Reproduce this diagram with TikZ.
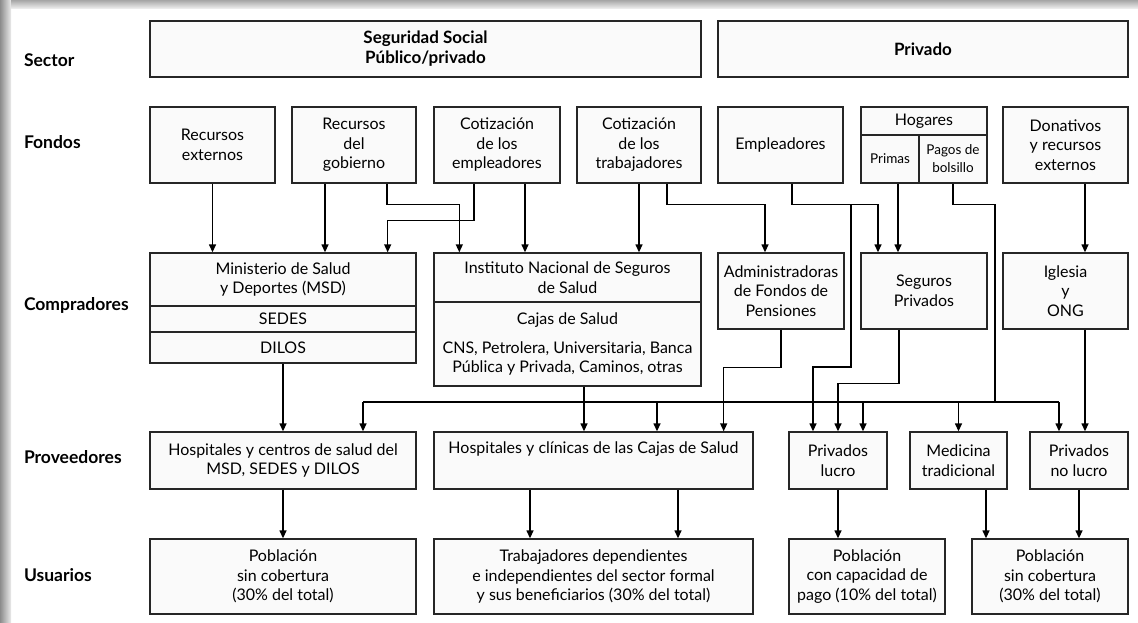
\documentclass[tikz,border=0pt]{standalone}
\usepackage{fontspec}
\setmainfont{Lato}
\usetikzlibrary{arrows.meta}

\begin{document}
\begin{tikzpicture}[x=1pt, y=-1pt,
  box/.style = {rectangle, draw=black!85, fill=black!2, align=center, inner sep=0pt},
  rowlabel/.style = {anchor=west, font=\bfseries\fontsize{17.5}{20}\selectfont},
  small/.style = {font=\fontsize{13.5}{18}\selectfont},
  >={Triangle[length=8pt, width=7pt]},
  line width=1.35pt,
  font=\fontsize{16}{19.5}\selectfont]
  % Page and shadow frame.
  \useasboundingbox (0, 0) rectangle (1138, 622);
  \fill [white] (0, 0) rectangle (1138, 622);
  \shade [left color=black!45, right color=black!8] (0, 0) rectangle (11, 622);
  \shade [top color=black!35, bottom color=black!8] (11, 0) rectangle (1138, 8);

  % Row labels.
  \node at (20, 60) [rowlabel, name=LabSector] {Sector};
  \node at (20, 142) [rowlabel, name=LabFondos] {Fondos};
  \node at (20, 305) [rowlabel, name=LabCompradores] {Compradores};
  \node at (20, 457) [rowlabel, name=LabProveedores] {Proveedores};
  \node at (20, 575) [rowlabel, name=LabUsuarios] {Usuarios};

  % Sector.
  \node at (425.5, 49) [box, minimum width=551, minimum height=56, font=\bfseries\fontsize{17}{20}\selectfont, name=SegSocial] {Seguridad Social\\Público/privado};
  \node at (923, 49) [box, minimum width=410, minimum height=56, font=\bfseries\fontsize{17}{20}\selectfont, name=Privado] {Privado};

  % Fondos.
  \node at (212.5, 145) [box, minimum width=125, minimum height=76, name=RecExt] {Recursos\\externos};
  \node at (354, 145) [box, minimum width=124, minimum height=76, name=RecGob] {Recursos\\del\\gobierno};
  \node at (497, 145) [box, minimum width=126, minimum height=76, name=CotEmp] {Cotización\\de los\\empleadores};
  \node at (639, 145) [box, minimum width=124, minimum height=76, name=CotTrab] {Cotización\\de los\\trabajadores};
  \node at (780.5, 145) [box, minimum width=125, minimum height=76, name=Empleadores] {Empleadores};
  \node at (924, 121) [box, minimum width=126, minimum height=28, name=Hogares] {Hogares};
  \node at (890, 159) [box, small, minimum width=58, minimum height=48, name=Primas] {Primas};
  \node at (953, 159) [box, small, minimum width=68, minimum height=48, name=Pagos] {Pagos de\\bolsillo};
  \node at (1065.5, 145) [box, minimum width=125, minimum height=76, name=Donativos] {Donativos\\y recursos\\externos};

  % Compradores.
  \node at (283, 279.5) [box, minimum width=266, minimum height=53, name=MSD] {Ministerio de Salud\\y Deportes (MSD)};
  \node at (283, 319) [box, minimum width=266, minimum height=26, name=SEDES] {SEDES};
  \node at (283, 347.5) [box, minimum width=266, minimum height=31, name=DILOS] {DILOS};
  \node at (567.5, 277.5) [box, minimum width=267, minimum height=49, name=INSS] {Instituto Nacional de Seguros\\de Salud};
  \node at (567.5, 344) [box, minimum width=267, minimum height=84, name=Cajas] {Cajas de Salud\\[9pt]CNS, Petrolera, Universitaria, Banca\\Pública y Privada, Caminos, otras};
  \node at (781, 291) [box, minimum width=126, minimum height=76, name=AFP] {Administradoras\\de Fondos de\\Pensiones};
  \node at (924, 291) [box, minimum width=126, minimum height=76, name=SegPriv] {Seguros\\Privados};
  \node at (1065.5, 291) [box, minimum width=125, minimum height=76, name=Iglesia] {Iglesia\\y\\ONG};

  % Proveedores.
  \node at (283, 460.5) [box, minimum width=266, minimum height=57, name=HospMSD] {Hospitales y centros de salud del\\MSD, SEDES y DILOS};
  \node at (593.5, 460.5) [box, minimum width=319, minimum height=57, name=HospCajas] {Hospitales y clínicas de las Cajas de Salud\\\strut};
  \node at (838, 460.5) [box, minimum width=98, minimum height=57, name=PrivLucro] {Privados\\lucro};
  \node at (958.5, 460.5) [box, minimum width=97, minimum height=57, name=MedTrad] {Medicina\\tradicional};
  \node at (1079, 460.5) [box, minimum width=98, minimum height=57, name=PrivNoLucro] {Privados\\no lucro};

  % Usuarios.
  \node at (283, 576.5) [box, minimum width=266, minimum height=75, name=PobSinA] {Población\\sin cobertura\\(30\% del total)};
  \node at (593.5, 576.5) [box, minimum width=319, minimum height=75, name=Trab] {Trabajadores dependientes\\e independientes del sector formal\\y sus beneficiarios (30\% del total)};
  \node at (867, 576.5) [box, minimum width=156, minimum height=75, name=PobCap] {Población\\con capacidad de\\pago (10\% del total)};
  \node at (1050, 576.5) [box, minimum width=156, minimum height=75, name=PobSinB] {Población\\sin cobertura\\(30\% del total)};

  % Fondos to compradores.
  \draw [->] (RecExt.south)
             to (RecExt.south |- MSD.north);
  \draw [->] ([xshift=-29pt]RecGob.south)
             to ([xshift=-29pt]RecGob.south |- MSD.north);
  \draw [->] ([xshift=33pt]RecGob.south)
             -- ++(0, 21) -| ([xshift=26pt]INSS.north west);
  \draw [->] ([xshift=-23pt]CotEmp.south)
             -- ++(0, 37) -| ([xshift=-29pt]MSD.north east);
  \draw [->] ([xshift=28pt]CotEmp.south)
             to ([xshift=28pt]CotEmp.south |- INSS.north);
  \draw [->] (CotTrab.south)
             to (CotTrab.south |- INSS.north);
  \draw [->] ([xshift=28pt]CotTrab.south)
             -- ++(0, 21) -| ([xshift=-16pt]AFP.north);
  \draw [->] ([xshift=11.5pt]Empleadores.south)
             -- ++(0, 21) -| ([xshift=-46pt]SegPriv.north);
  \draw [->] ([xshift=8pt]Primas.south)
             to ([xshift=8pt]Primas.south |- SegPriv.north);
  \draw [->] ([xshift=19.5pt]Donativos.south)
             to ([xshift=19.5pt]Donativos.south |- Iglesia.north);

  % Branch points.
  \coordinate (empSplit) at (851, 204);
  \coordinate (busWest) at (363, 402);
  \coordinate (busEast) at (1059, 402);
  \coordinate (bolsillo) at (995, 402);

  % Empleadores and bolsillo to proveedores.
  \draw [->] (empSplit)
             -- ++(0, 163) -| ([xshift=-25pt]PrivLucro.north);
  \draw [  ] (Pagos.south)
             -- ++(0, 21) -| (bolsillo);
  \draw [  ] (busWest)
             to (busEast);
  \draw [->] (busWest)
             to (busWest |- HospMSD.north);
  \draw [->] ([xshift=63.5pt]HospCajas.north |- busWest)
             to ([xshift=63.5pt]HospCajas.north);
  \draw [->] ([xshift=25pt]PrivLucro.north |- busWest)
             to ([xshift=25pt]PrivLucro.north);
  \draw [->] (MedTrad.north |- busWest)
             to (MedTrad.north);
  \draw [->] (busEast)
             to (busEast |- PrivNoLucro.north);

  % Compradores to proveedores.
  \draw [->] (DILOS.south)
             to (DILOS.south |- HospMSD.north);
  \draw [->] ([xshift=16.5pt]Cajas.south)
             to ([xshift=16.5pt]Cajas.south |- HospCajas.north);
  \draw [->] (AFP.south)
             -- ++(0, 38) -| ([xshift=-30pt]HospCajas.north east);
  \draw [->] ([xshift=-25pt]SegPriv.south)
             -- ++(0, 54) -| (PrivLucro.north);
  \draw [->] ([xshift=19.5pt]Iglesia.south)
             to ([xshift=19.5pt]Iglesia.south |- PrivNoLucro.north);

  % Proveedores to usuarios.
  \draw [->] (HospMSD.south)
             to (HospMSD.south |- PobSinA.north);
  \draw [->] ([xshift=-63.5pt]HospCajas.south)
             to ([xshift=-63.5pt]HospCajas.south |- Trab.north);
  \draw [->] ([xshift=84.5pt]HospCajas.south)
             to ([xshift=84.5pt]HospCajas.south |- Trab.north);
  \draw [->] (PrivLucro.south)
             to (PrivLucro.south |- PobCap.north);
  \draw [->] ([xshift=27.5pt]MedTrad.south)
             to ([xshift=27.5pt]MedTrad.south |- PobSinB.north);
  \draw [->] (PrivNoLucro.south)
             to (PrivNoLucro.south |- PobSinB.north);
\end{tikzpicture}
\end{document}
